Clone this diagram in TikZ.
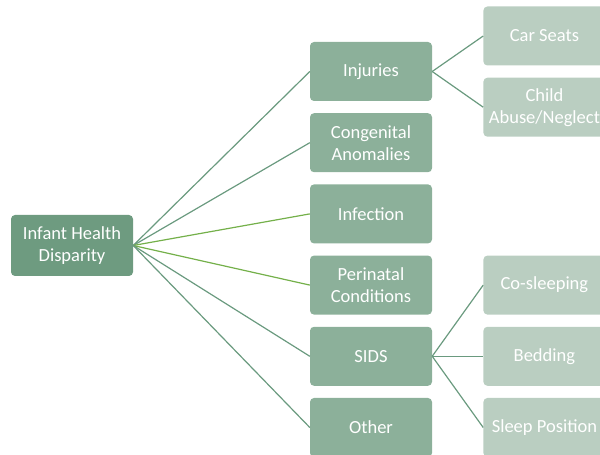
\documentclass[tikz,border=0pt]{standalone}
\usepackage{fontspec}
\setmainfont{Carlito}
\usetikzlibrary{positioning}

\definecolor{rootgreen}{HTML}{6E9B80}
\definecolor{midgreen}{HTML}{8CB09A}
\definecolor{leafgreen}{HTML}{BACEC1}
\definecolor{linegreen}{HTML}{6A9A7F}
\definecolor{brightgreen}{HTML}{74B04A}

\begin{document}
\begin{tikzpicture}[
			x=1pt,y=1pt,
			node distance=11.8pt,
			box/.style={
				rounded corners=4pt,
				minimum width=122pt,
				minimum height=59pt,
				inner sep=1pt,
				align=center,
				text=white,
				font=\fontsize{18.5}{22}\selectfont,
				fill=midgreen
			},
			rootbox/.style={box,fill=rootgreen,minimum height=61pt},
			leaf/.style={box,fill=leafgreen},
			link/.style={draw=linegreen,line width=1.2pt},
			]
			
			\useasboundingbox (0,0) rectangle (600,455);
			
			\node[rootbox] (R) at (72,209.5) {Infant Health\\Disparity};
			
			\node[box] (A) at (371,383.5) {Injuries};
			\node[box,below=of A] (B) {Congenital\\Anomalies};
			\node[box,below=of B] (C) {Infection};
			\node[box,below=of C] (D) {Perinatal\\Conditions};
			\node[box,below=of D] (E) {SIDS};
			\node[box,below=of E] (F) {Other};
			
			\node[leaf,right=51pt of A,yshift=35.5pt] (A1) {Car Seats};
			\node[leaf,below=of A1] (A2) {Child\\Abuse/Neglect};
			
			\node[leaf,right=51pt of E] (E2) {Bedding};
			\node[leaf,above=of E2] (E1) {Co-sleeping};
			\node[leaf,below=of E2] (E3) {Sleep Position};
			
			\draw[link] (R.east)--(A.west);
			\draw[link] (R.east)--(B.west);
			\draw[link,draw=brightgreen] (R.east)--(C.west);
			\draw[link,draw=brightgreen] (R.east)--(D.west);
			\draw[link] (R.east)--(E.west);
			\draw[link] (R.east)--(F.west);
			
			\draw[link] (A.east)--(A1.west);
			\draw[link] (A.east)--(A2.west);
			\draw[link] (E.east)--(E1.west);
			\draw[link] (E.east)--(E2.west);
			\draw[link] (E.east)--(E3.west);
			
		\end{tikzpicture}
\end{document}
